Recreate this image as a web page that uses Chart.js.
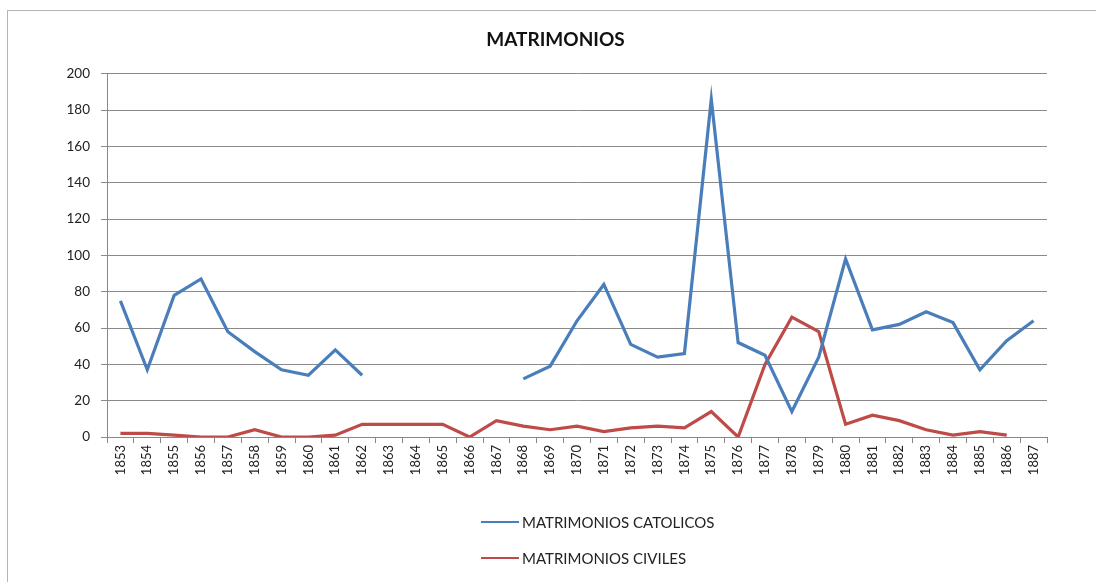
<!DOCTYPE html>
<html>
<head>
<meta charset="utf-8">
<script src="https://cdn.jsdelivr.net/npm/chart.js@4/dist/chart.umd.min.js"></script>
<style>
  html, body { margin: 0; padding: 0; background: #fff; }
  #wrap { position: relative; width: 1096px; height: 582px; }
  #frame { position: absolute; left: 7px; top: 10px; right: 0; bottom: 0;
           border-left: 1px solid #b4b4b4; border-top: 1px solid #b4b4b4; }
  canvas { position: absolute; left: 0; top: 0; }
</style>
</head>
<body>
<div id="wrap">
  <div id="frame"></div>
  <canvas id="line" width="1096" height="582"></canvas>
</div>
<script>
'use strict';

// 연도 (x축)
const years = ['1853', '1854', '1855', '1856', '1857', '1858', '1859', '1860', '1861', '1862',
    '1863', '1864', '1865', '1866', '1867', '1868', '1869', '1870', '1871', '1872',
    '1873', '1874', '1875', '1876', '1877', '1878', '1879', '1880', '1881', '1882',
    '1883', '1884', '1885', '1886', '1887'];

// 가톨릭 혼인 (1863~1867 값 없음)
const catolicos = [75, 37, 78, 87, 58, 47, 37, 34, 48, 34,
    null, null, null, null, null, 32, 39, 64, 84, 51,
    44, 46, 186, 52, 45, 14, 44, 98, 59, 62,
    69, 63, 37, 53, 64];

// 민사 혼인 (1887 값 없음)
const civiles = [2, 2, 1, 0, 0, 4, 0, 0, 1, 7,
    7, 7, 7, 0, 9, 6, 4, 6, 3, 5,
    6, 5, 14, 0, 40, 66, 58, 7, 12, 9,
    4, 1, 3, 1, null];

// y축 눈금
const yTicks = [0, 20, 40, 60, 80, 100, 120, 140, 160, 180, 200];

const FONT = 'Lato, "Open Sans", sans-serif';

// 범례는 세로로 두 줄 -> 직접 그림
const stackedLegend = {
    id: 'stackedLegend',
    afterDraw(chart) {
        const ctx = chart.ctx;
        const x0 = 481;
        const rows = [522, 558];
        ctx.save();
        ctx.font = '15px ' + FONT;
        ctx.textBaseline = 'middle';
        ctx.textAlign = 'left';
        chart.data.datasets.forEach(function (ds, i) {
            const y = rows[i];
            ctx.strokeStyle = ds.borderColor;
            ctx.lineWidth = 2;
            ctx.beginPath();
            ctx.moveTo(x0, y);
            ctx.lineTo(x0 + 38, y);
            ctx.stroke();
            ctx.fillStyle = '#222';
            ctx.fillText(ds.label, x0 + 41, y + 1);
        });
        ctx.restore();
    }
};

const line = document.getElementById('line');
const lineChart = new Chart(line, {
    type: 'line',
    data: {
        labels: years,
        datasets: [{
            label: 'MATRIMONIOS CATOLICOS',
            data: catolicos,
            borderColor: '#4a7ebb',
            backgroundColor: '#4a7ebb',
            borderWidth: 3.2,
            pointRadius: 0,
            tension: 0,
            spanGaps: false
        }, {
            label: 'MATRIMONIOS CIVILES',
            data: civiles,
            borderColor: '#be4b48',
            backgroundColor: '#be4b48',
            borderWidth: 3.2,
            pointRadius: 0,
            tension: 0,
            spanGaps: false
        }]
    },
    options: {
        responsive: false,
        animation: false,
        // 제목 중심을 오른쪽으로 -> 왼쪽 여백 크게, y축 폭 줄임
        layout: { padding: { left: 64, right: 49, top: 0, bottom: 0 } },
        plugins: {
            legend: { display: false },
            tooltip: { enabled: false },
            title: {
                display: true,
                text: 'MATRIMONIOS',
                color: '#111',
                font: { family: FONT, size: 19, weight: 'bold' },
                padding: { top: 28, bottom: 23 }
            }
        },
        scales: {
            x: {
                offset: true,
                grid: { display: true, drawOnChartArea: false, offset: true, tickLength: 6, color: '#888' },
                border: { display: true, color: '#888' },
                ticks: {
                    minRotation: 90, maxRotation: 90, autoSkip: false,
                    color: '#222', padding: 2,
                    font: { family: FONT, size: 13 }
                },
                afterFit(scale) { scale.height = 145; }
            },
            y: {
                min: 0,
                max: 200,
                afterBuildTicks(scale) { scale.ticks = yTicks.map(function (v) { return { value: v }; }); },
                grid: { color: '#8a8a8a', tickLength: 6, lineWidth: 1 },
                border: { display: true, color: '#888' },
                ticks: {
                    color: '#222', padding: 11,
                    font: { family: FONT, size: 13.5 }
                },
                afterFit(scale) { scale.width = 43; }
            }
        }
    },
    plugins: [stackedLegend]
});
</script>
</body>
</html>
